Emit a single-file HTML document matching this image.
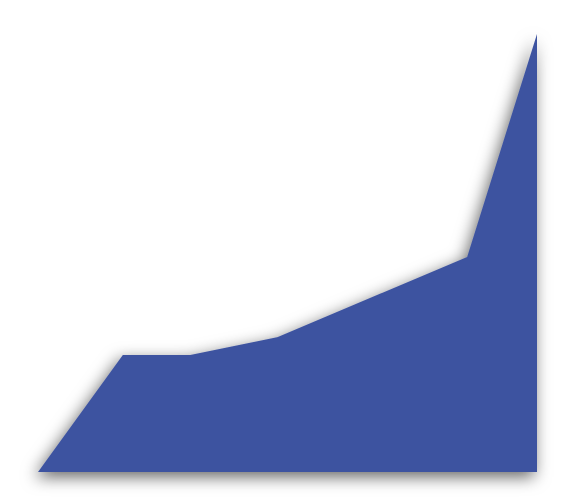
<!DOCTYPE html>
<html><head><meta charset="utf-8"><style>
html,body{margin:0;padding:0;background:#fff;width:564px;height:504px;overflow:hidden;}
svg{display:block;}
</style></head><body>
<svg id="chart" width="564" height="504" viewBox="0 0 564 504">
<defs>
<filter id="sh" x="-20%" y="-20%" width="140%" height="140%">
<feDropShadow dx="-3" dy="5" stdDeviation="8" flood-color="#000" flood-opacity="0.6"/>
</filter>
</defs>
<g id="plot"></g>
</svg>
<script>
const xValues = [0, 17, 30.5, 48, 86, 100];
const yValues = [0, 26.7, 26.7, 30.8, 49.1, 100];
const xDomain = [0, 100];
const yDomain = [0, 100];
function xScale(v){return 38 + (v - xDomain[0]) / (xDomain[1] - xDomain[0]) * (537 - 38);}
function yScale(v){return 472 - (v - yDomain[0]) / (yDomain[1] - yDomain[0]) * (472 - 34);}
const g = document.getElementById('plot');
let d = 'M' + xScale(xValues[0]) + ',' + yScale(0);
for (let i = 0; i < xValues.length; i++) d += ' L' + xScale(xValues[i]) + ',' + yScale(yValues[i]);
d += ' L' + xScale(xValues[xValues.length-1]) + ',' + yScale(0) + ' Z';
const p = document.createElementNS('http://www.w3.org/2000/svg','path');
p.setAttribute('d', d);
p.setAttribute('fill', '#3d53a0');
p.setAttribute('filter', 'url(#sh)');


g.appendChild(p);
</script>
</body></html>
